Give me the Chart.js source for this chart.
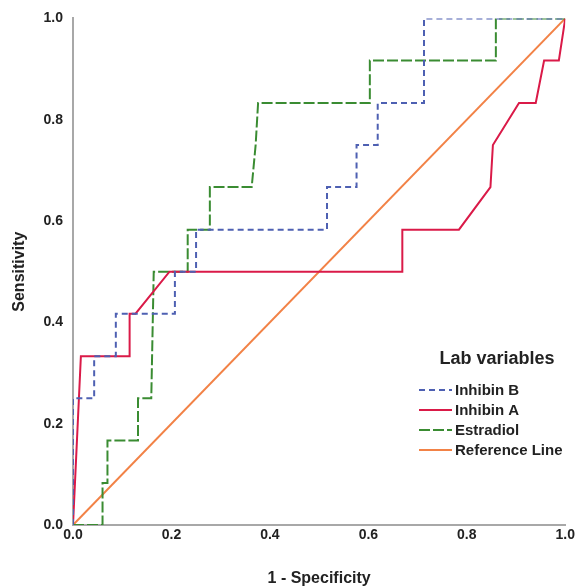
<!DOCTYPE html>
<html>
<head>
<meta charset="utf-8">
<script src="https://cdn.jsdelivr.net/npm/chart.js@4"></script>
<style>
  html, body { margin: 0; padding: 0; background: #fff; }
  #wrap { width: 577px; height: 588px; }
</style>
</head>
<body>
<div id="wrap"><canvas id="rocChart" width="577" height="588"></canvas></div>
<script>
const FONT = '"Liberation Sans", Arial, sans-serif';

// ROC curve coordinates (x = 1 - specificity, y = sensitivity)
const inhibinBX = [0, 0, 0.043, 0.043, 0.087, 0.087, 0.207, 0.207, 0.25, 0.25, 0.516, 0.516, 0.576, 0.576, 0.619, 0.619, 0.713, 0.713, 1];
const inhibinBY = [0, 0.25, 0.25, 0.333, 0.333, 0.417, 0.417, 0.5, 0.5, 0.583, 0.583, 0.667, 0.667, 0.75, 0.75, 0.833, 0.833, 1, 1];

const inhibinAX = [0, 0.016, 0.115, 0.115, 0.127, 0.196, 0.669, 0.669, 0.784, 0.848, 0.853, 0.906, 0.94, 0.957, 0.987, 1];
const inhibinAY = [0, 0.333, 0.333, 0.417, 0.417, 0.5, 0.5, 0.583, 0.583, 0.667, 0.75, 0.833, 0.833, 0.917, 0.917, 1];

const estradiolX = [0, 0.06, 0.06, 0.07, 0.07, 0.132, 0.132, 0.159, 0.164, 0.233, 0.233, 0.278, 0.278, 0.363, 0.371, 0.376, 0.603, 0.603, 0.859, 0.859, 1];
const estradiolY = [0, 0, 0.083, 0.083, 0.167, 0.167, 0.25, 0.25, 0.5, 0.5, 0.583, 0.583, 0.667, 0.667, 0.75, 0.833, 0.833, 0.917, 0.917, 1, 1];

const referenceX = [0, 1];
const referenceY = [0, 1];

const seriesNames = ['Inhibin B', 'Inhibin A', 'Estradiol', 'Reference Line'];
const legendTitle = 'Lab variables';

function toPoints(xs, ys) {
  return xs.map((x, i) => ({ x: x, y: ys[i] }));
}

function lineSet(label, xs, ys, color, dash, width, order) {
  return {
    label: label,
    data: toPoints(xs, ys),
    showLine: true,
    borderColor: color,
    backgroundColor: color,
    borderWidth: width,
    borderDash: dash,
    pointRadius: 0,
    tension: 0,
    order: order,
  };
}

// legend drawn inside the plot, bottom right like the original
const roclegend = {
  id: 'roclegend',
  afterDraw(chart) {
    const ctx = chart.ctx;
    ctx.save();
    ctx.fillStyle = '#222';
    ctx.font = 'bold 18px ' + FONT;
    ctx.textAlign = 'center';
    ctx.textBaseline = 'middle';
    ctx.fillText(legendTitle, 497, 359);
    ctx.textAlign = 'left';
    ctx.font = 'bold 15px ' + FONT;
    const rows = [390, 410, 430, 450];
    chart.data.datasets.forEach((ds, i) => {
      const y = rows[i];
      ctx.strokeStyle = ds.borderColor;
      ctx.lineWidth = 2;
      ctx.setLineDash(ds.borderDash || []);
      ctx.beginPath();
      ctx.moveTo(419, y);
      ctx.lineTo(452, y);
      ctx.stroke();
      ctx.setLineDash([]);
      ctx.fillStyle = '#222';
      ctx.fillText(ds.label, 455, y + 1);
    });
    ctx.restore();
  }
};

new Chart(document.getElementById('rocChart').getContext('2d'), {
  type: 'scatter',
  data: {
    datasets: [
      lineSet(seriesNames[0], inhibinBX, inhibinBY, 'rgb(78, 96, 178)', [6, 4], 2, 0),
      lineSet(seriesNames[1], inhibinAX, inhibinAY, 'rgb(218, 26, 72)', [], 2, 1),
      lineSet(seriesNames[2], estradiolX, estradiolY, 'rgb(58, 140, 50)', [11, 3], 2, 2),
      lineSet(seriesNames[3], referenceX, referenceY, 'rgb(242, 130, 70)', [], 2, 3),
    ],
  },
  options: {
    responsive: false,
    animation: false,
    layout: { padding: { top: 18, right: 9, left: 0, bottom: 0 } },
    plugins: {
      legend: { display: false },
      tooltip: { enabled: false },
    },
    scales: {
      x: {
        type: 'linear',
        min: 0,
        max: 1,
        grid: { display: false, drawTicks: false, tickLength: 0 },
        border: { color: '#a8a8a8', width: 2 },
        ticks: {
          stepSize: 0.2,
          maxRotation: 0,
          padding: 2,
          color: '#222',
          font: { family: FONT, size: 14, weight: 'bold' },
          callback: v => v.toFixed(1),
        },
        title: {
          display: true,
          text: '1 - Specificity',
          color: '#222',
          font: { family: FONT, size: 16, weight: 'bold' },
          padding: { top: 4, bottom: 0 },
        },
        afterFit: s => { s.height = 63; },
      },
      y: {
        type: 'linear',
        min: 0,
        max: 1,
        grid: { display: false, drawTicks: false, tickLength: 0 },
        border: { color: '#a8a8a8', width: 2 },
        ticks: {
          stepSize: 0.2,
          padding: 10,
          color: '#222',
          font: { family: FONT, size: 14, weight: 'bold' },
          callback: v => v.toFixed(1),
        },
        title: {
          display: true,
          text: 'Sensitivity',
          color: '#222',
          font: { family: FONT, size: 16, weight: 'bold' },
          padding: { top: 10, bottom: 14 },
        },
        afterFit: s => { s.width = 73; },
      },
    },
  },
  plugins: [roclegend],
});
</script>
</body>
</html>
